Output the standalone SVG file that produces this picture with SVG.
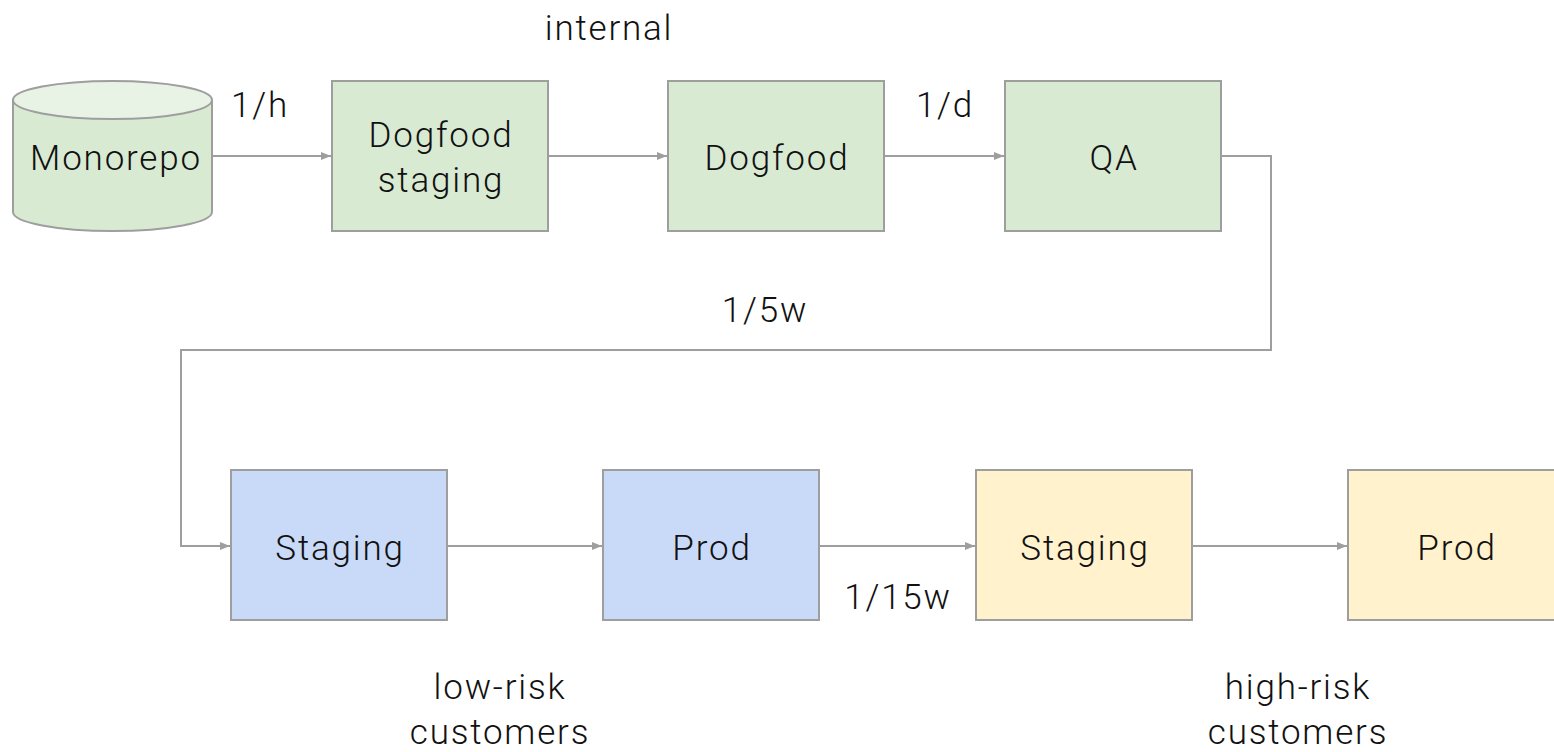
<svg xmlns="http://www.w3.org/2000/svg" width="1554" height="752" viewBox="0 0 1554 752">
<style>
.n{stroke:#9e9e9e;stroke-width:2}
.g{fill:#d9ead3}.b{fill:#c9daf8}.y{fill:#fff2cc}
text{font-family:Roboto,"Liberation Sans",sans-serif;font-weight:300;font-size:35px;fill:#111;text-anchor:middle;letter-spacing:1.8px}
.c{fill:none;stroke:#9e9e9e;stroke-width:2;marker-end:url(#a)}
</style>
<defs>
<marker id="a" viewBox="0 0 10 8" refX="10" refY="4" markerWidth="10" markerHeight="8" markerUnits="userSpaceOnUse" orient="auto">
<path d="M0,0L10,4L0,8z" fill="#9e9e9e"/>
</marker>
</defs>
<rect width="1554" height="752" fill="#fff"/>
<g id="connectors">
<path class="c" d="M212,156H331"/>
<path class="c" d="M548,156H667"/>
<path class="c" d="M884,156H1004"/>
<path class="c" d="M1221,156H1271V350H181V546H230"/>
<path class="c" d="M447,546H602"/>
<path class="c" d="M819,546H975"/>
<path class="c" d="M1192,546H1347"/>
</g>
<g id="monorepo">
<path class="n g" d="M13,100V212A99.5,19 0 0 0 212,212V100"/>
<ellipse class="n" cx="112.5" cy="100" rx="99.5" ry="19" fill="#e8f2e5"/>
<text x="116" y="170">Monorepo</text>
</g>
<g id="dogfood-staging">
<rect class="n g" x="332" y="81" width="216" height="150"/>
<text x="441" y="147">Dogfood</text>
<text x="441" y="192">staging</text>
</g>
<g id="dogfood">
<rect class="n g" x="668" y="81" width="216" height="150"/>
<text x="777" y="170">Dogfood</text>
</g>
<g id="qa">
<rect class="n g" x="1005" y="81" width="216" height="150"/>
<text x="1114" y="170">QA</text>
</g>
<g id="staging-low">
<rect class="n b" x="231" y="470" width="216" height="150"/>
<text x="340" y="560">Staging</text>
</g>
<g id="prod-low">
<rect class="n b" x="603" y="470" width="216" height="150"/>
<text x="712" y="560">Prod</text>
</g>
<g id="staging-high">
<rect class="n y" x="976" y="470" width="216" height="150"/>
<text x="1085" y="560">Staging</text>
</g>
<g id="prod-high">
<rect class="n y" x="1348" y="470" width="216" height="150"/>
<text x="1457" y="560">Prod</text>
</g>
<g id="labels">
<text x="609" y="40">internal</text>
<text x="260" y="117">1/h</text>
<text x="945" y="117">1/d</text>
<text x="765" y="322">1/5w</text>
<text x="898" y="609">1/15w</text>
<text x="500" y="699">low-risk</text>
<text x="500" y="744">customers</text>
<text x="1298" y="699">high-risk</text>
<text x="1298" y="744">customers</text>
</g>
</svg>
